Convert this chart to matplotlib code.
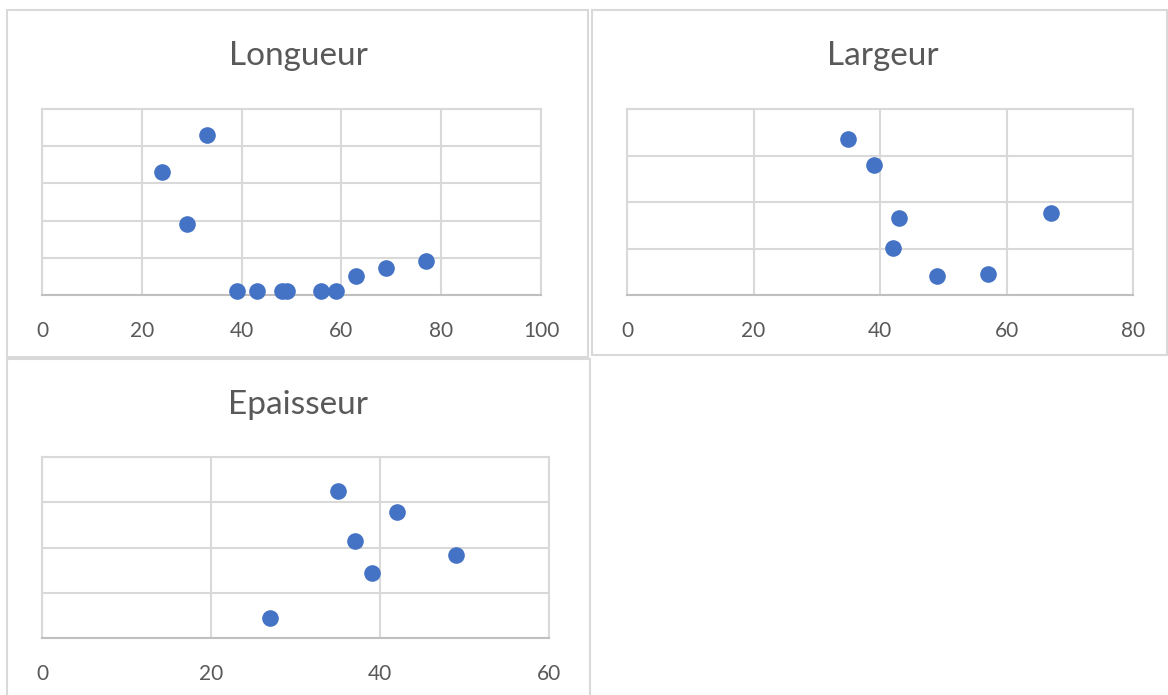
import matplotlib.pyplot as plt
from matplotlib.patches import Rectangle

W, H = 1168, 695

# values (the y axis has no labels, one unit per gridline)
longueur_x = [33, 24, 29, 39, 43, 48, 49, 56, 59, 63, 69, 77]
longueur_y = [4.3, 3.31, 1.91, 0.11, 0.11, 0.11, 0.11, 0.11, 0.11, 0.51, 0.73, 0.91]

largeur_x = [35, 39, 43, 42, 49, 57, 67]
largeur_y = [3.35, 2.8, 1.66, 1.01, 0.41, 0.45, 1.76]

epaisseur_x = [35, 42, 37, 49, 39, 27]
epaisseur_y = [3.25, 2.78, 2.14, 1.83, 1.44, 0.44]

BLUE = '#4472C4'
GRID = '#d9d9d9'
TEXT = '#595959'

plt.rcParams['font.family'] = ['Lato', 'DejaVu Sans']

fig = plt.figure(figsize=(W / 100, H / 100), dpi=100)


def px_box(x0, y0, x1, y1):
    # pixel box (top-left origin) -> figure fraction [left, bottom, width, height]
    return [x0 / W, 1 - y1 / H, (x1 - x0) / W, (y1 - y0) / H]


def panel(frame, area, title, title_xy, xs, ys, xmax, xstep, ny):
    fig.add_artist(Rectangle((frame[0], frame[1]), frame[2], frame[3],
                             transform=fig.transFigure, fill=False,
                             edgecolor=GRID, linewidth=1.5))
    ax = fig.add_axes(area)
    ax.scatter(xs, ys, s=120, color=BLUE, zorder=3, clip_on=False)
    ax.set_xlim(0, xmax)
    ax.set_ylim(0, ny)
    ax.set_xticks(range(0, xmax + 1, xstep))
    ax.set_yticks(range(0, ny + 1))
    ax.set_yticklabels([])
    ax.grid(True, color=GRID, linewidth=1.5)
    ax.set_axisbelow(True)
    for side in ['top', 'left', 'right']:
        ax.spines[side].set_color(GRID)
        ax.spines[side].set_linewidth(1.5)
    ax.spines['bottom'].set_color('#bfbfbf')
    ax.spines['bottom'].set_linewidth(1.5)
    ax.tick_params(length=0, labelsize=15, labelcolor=TEXT, pad=19)
    fig.text(title_xy[0] / W, 1 - title_xy[1] / H, title, ha='center',
             va='center', fontsize=24, color=TEXT)
    return ax


panel(px_box(7, 10, 588, 357), px_box(42, 109, 541, 295), 'Longueur', (298, 56),
      longueur_x, longueur_y, 100, 20, 5)
panel(px_box(592, 10, 1167, 355), px_box(627, 109, 1133, 295), 'Largeur', (883, 56),
      largeur_x, largeur_y, 80, 20, 4)
panel(px_box(7, 359, 590, 700), px_box(42, 457, 549, 638), 'Epaisseur', (298, 405),
      epaisseur_x, epaisseur_y, 60, 20, 4)

fig.savefig('out.png', dpi=100, facecolor='white')
